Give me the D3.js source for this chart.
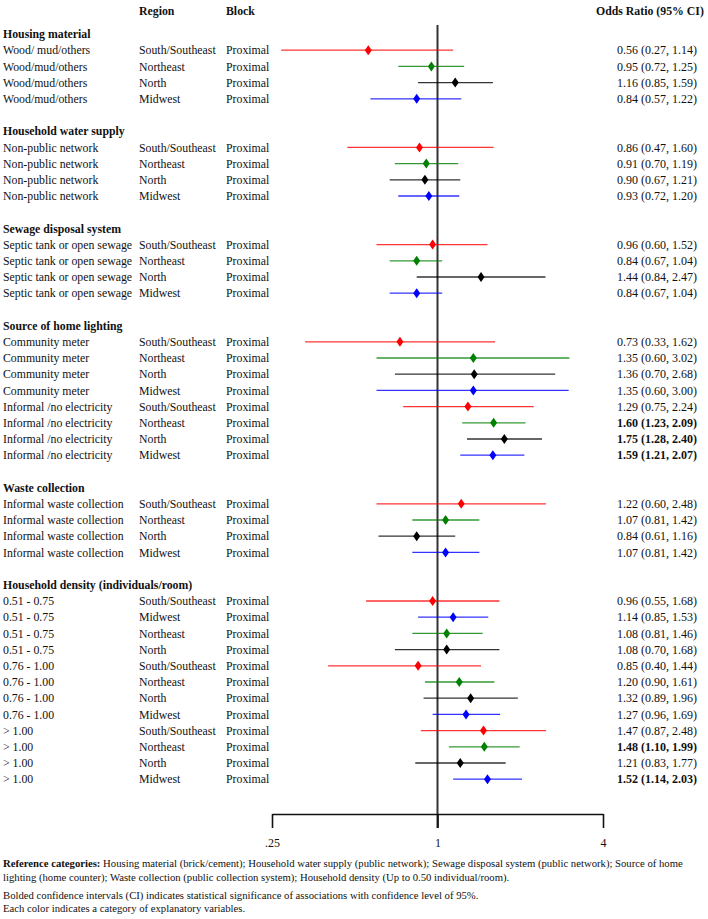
<!DOCTYPE html>
<html>
<head>
<meta charset="utf-8">
<script src="https://cdn.jsdelivr.net/npm/d3@7"></script>
<style>
  html, body { margin: 0; padding: 0; background: #fff; }
  svg { display: block; }
  text { font-family: "Liberation Serif", "Times New Roman", serif; fill: #111; }
</style>
</head>
<body>
<svg id="chart" width="708" height="919"></svg>
<script>
// ---- Data ----
const groupTitles = ["Housing material", "Household water supply", "Sewage disposal system",
  "Source of home lighting", "Waste collection", "Household density (individuals/room)"];
const groupOf = [0,0,0,0, 1,1,1,1, 2,2,2,2, 3,3,3,3,3,3,3,3, 4,4,4,4, 5,5,5,5,5,5,5,5,5,5,5,5];
const labels = [
  "Wood/ mud/others", "Wood/mud/others", "Wood/mud/others", "Wood/mud/others",
  "Non-public network", "Non-public network", "Non-public network", "Non-public network",
  "Septic tank or open sewage", "Septic tank or open sewage", "Septic tank or open sewage", "Septic tank or open sewage",
  "Community meter", "Community meter", "Community meter", "Community meter",
  "Informal /no electricity", "Informal /no electricity", "Informal /no electricity", "Informal /no electricity",
  "Informal waste collection", "Informal waste collection", "Informal waste collection", "Informal waste collection",
  "0.51 - 0.75", "0.51 - 0.75", "0.51 - 0.75", "0.51 - 0.75",
  "0.76 - 1.00", "0.76 - 1.00", "0.76 - 1.00", "0.76 - 1.00",
  "> 1.00", "> 1.00", "> 1.00", "> 1.00"];
const regions = [
  "South/Southeast","Northeast","North","Midwest",
  "South/Southeast","Northeast","North","Midwest",
  "South/Southeast","Northeast","North","Midwest",
  "South/Southeast","Northeast","North","Midwest",
  "South/Southeast","Northeast","North","Midwest",
  "South/Southeast","Northeast","North","Midwest",
  "South/Southeast","Midwest","Northeast","North",
  "South/Southeast","Northeast","North","Midwest",
  "South/Southeast","Northeast","North","Midwest"];
const oddsRatio = [0.56,0.95,1.16,0.84, 0.86,0.91,0.90,0.93, 0.96,0.84,1.44,0.84,
  0.73,1.35,1.36,1.35, 1.29,1.60,1.75,1.59, 1.22,1.07,0.84,1.07,
  0.96,1.14,1.08,1.08, 0.85,1.20,1.32,1.27, 1.47,1.48,1.21,1.52];
const ciLow = [0.27,0.72,0.85,0.57, 0.47,0.70,0.67,0.72, 0.60,0.67,0.84,0.67,
  0.33,0.60,0.70,0.60, 0.75,1.23,1.28,1.21, 0.60,0.81,0.61,0.81,
  0.55,0.85,0.81,0.70, 0.40,0.90,0.89,0.96, 0.87,1.10,0.83,1.14];
const ciHigh = [1.14,1.25,1.59,1.22, 1.60,1.19,1.21,1.20, 1.52,1.04,2.47,1.04,
  1.62,3.02,2.68,3.00, 2.24,2.09,2.40,2.07, 2.48,1.42,1.16,1.42,
  1.68,1.53,1.46,1.68, 1.44,1.61,1.96,1.69, 2.48,1.99,1.77,2.03];
const significant = [0,0,0,0, 0,0,0,0, 0,0,0,0, 0,0,0,0, 0,1,1,1, 0,0,0,0,
  0,0,0,0, 0,0,0,0, 0,1,0,1];
const axisTicks = [0.25, 1, 4];
const axisTickLabels = [".25", "1", "4"];
const regionColors = { "South/Southeast": "#ff0000", "Northeast": "#008000", "North": "#000000", "Midwest": "#0000ff" };
const footLines = [
  [{b:"Reference categories: "}, {t:"Housing material (brick/cement); Household water supply (public network); Sewage disposal system (public network); Source of home"}],
  [{t:"lighting (home counter); Waste collection (public collection system); Household density (Up to 0.50 individual/room)."}],
  [{t:"Bolded confidence intervals (CI) indicates statistical significance of associations with confidence level of 95%."}],
  [{t:"Each color indicates a category of explanatory variables."}]
];

// ---- Layout rows ----
const rows = [];
let slot = 0;
groupTitles.forEach((g, gi) => {
  rows.push({type: "header", text: g, slot: slot++});
  oddsRatio.forEach((v, i) => {
    if (groupOf[i] === gi) rows.push({type: "item", i, slot: slot++});
  });
  slot++; // blank
});
const nSlots = slot - 1;

const svg = d3.select("#chart");
const y = d3.scaleLinear().domain([0, nSlots - 1]).range([34, 34 + (nSlots - 1) * 16.2]);
const x = d3.scaleLog().base(2).domain([0.25, 4]).range([272, 603]);

const fs = 11.8;
// Column headers
const hdrY = 11;
svg.append("text").attr("x", 139).attr("y", hdrY).attr("dy", "0.35em").attr("font-weight", "bold").attr("font-size", fs).text("Region");
svg.append("text").attr("x", 226).attr("y", hdrY).attr("dy", "0.35em").attr("font-weight", "bold").attr("font-size", fs).text("Block");
svg.append("text").attr("x", 596).attr("y", hdrY).attr("dy", "0.35em").attr("font-weight", "bold").attr("font-size", fs).text("Odds Ratio (95% CI)");

// Reference line at OR = 1
const axisY = 814;
svg.append("line").attr("x1", x(1)).attr("x2", x(1)).attr("y1", 25).attr("y2", axisY + 14)
  .attr("stroke", "#333").attr("stroke-width", 2);

// Rows
rows.forEach(r => {
  const yy = y(r.slot);
  if (r.type === "header") {
    svg.append("text").attr("x", 3).attr("y", yy).attr("dy", "0.35em").attr("font-weight", "bold").attr("font-size", fs).text(r.text);
    return;
  }
  const i = r.i;
  const col = regionColors[regions[i]];
  svg.append("text").attr("x", 3).attr("y", yy).attr("dy", "0.35em").attr("font-size", fs).text(labels[i]);
  svg.append("text").attr("x", 139).attr("y", yy).attr("dy", "0.35em").attr("font-size", fs).text(regions[i]);
  svg.append("text").attr("x", 226).attr("y", yy).attr("dy", "0.35em").attr("font-size", fs).text("Proximal");
  svg.append("line").attr("x1", x(ciLow[i])).attr("x2", x(ciHigh[i])).attr("y1", yy).attr("y2", yy)
    .attr("stroke", col).attr("stroke-width", 1.3).attr("stroke-opacity", 0.8);
  const cx = x(oddsRatio[i]);
  svg.append("path").attr("d", `M${cx},${yy-5}L${cx+3.5},${yy}L${cx},${yy+5}L${cx-3.5},${yy}Z`).attr("fill", col);
  svg.append("text").attr("x", 617).attr("y", yy).attr("dy", "0.35em").attr("font-size", 12)
    .attr("font-weight", significant[i] ? "bold" : "normal")
    .text(`${oddsRatio[i].toFixed(2)} (${ciLow[i].toFixed(2)}, ${ciHigh[i].toFixed(2)})`);
});

// X axis (bracket style)
const axisG = svg.append("g").attr("transform", `translate(0,${axisY})`);
const axis = d3.axisBottom(x).tickValues(axisTicks).tickFormat((d, k) => axisTickLabels[k]).tickSize(14).tickSizeOuter(0);
axisG.call(axis);
axisG.select(".domain").attr("stroke", "#111").attr("stroke-width", 1.6);
axisG.selectAll(".tick line").attr("stroke", "#111").attr("stroke-width", 1.6);
axisG.selectAll(".tick text").attr("font-family", "Liberation Serif, serif").attr("font-size", 12).attr("fill", "#111").attr("dy", "1.33em");

// Footnotes
const footY = [867, 881, 899, 912];
const footFs = 10.7;
footLines.forEach((parts, k) => {
  const t = svg.append("text").attr("x", 3).attr("y", footY[k]).attr("font-size", footFs);
  parts.forEach(p => {
    if (p.b) t.append("tspan").attr("font-weight", "bold").text(p.b);
    else t.append("tspan").text(p.t);
  });
});
</script>
</body>
</html>
